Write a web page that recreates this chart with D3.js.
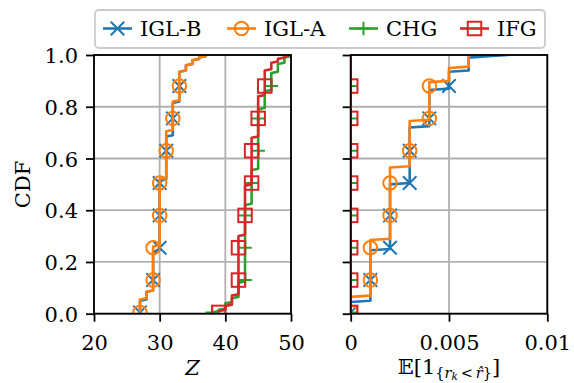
<!DOCTYPE html>
<html><head><meta charset="utf-8">
<script src="https://cdn.jsdelivr.net/npm/d3@7"></script>
<style>body{margin:0;background:#fff}svg{display:block}</style>
</head><body>
<svg id="c" width="574" height="383"></svg>
<script>
// ---------- data ----------
const categories = ["IGL-B", "IGL-A", "CHG", "IFG"];
const nSamples = 200;           // samples per empirical CDF
const markEvery = 25;           // a marker every 25 samples
// Left panel: Z — distinct values and cumulative counts
const zValsIglB = [27, 28, 29, 30, 31, 32, 33, 34, 35, 36, 37];
const zCumIglB  = [10, 17, 48, 103, 137, 163, 187, 192, 196, 198, 200];
const zValsIglA = [27, 28, 29, 30, 31, 32, 33, 34, 35, 36, 37];
const zCumIglA  = [11, 17, 52, 104, 141, 164, 187, 192, 196, 198, 200];
const zValsChg  = [38, 39, 40, 41, 42, 43, 44, 45, 46, 47, 48, 49, 50];
const zCumChg   = [1, 3, 8, 12, 24, 84, 111, 158, 172, 186, 193, 198, 200];
const zValsIfg  = [39, 40, 41, 42, 43, 44, 45, 46, 47, 48, 49, 50];
const zCumIfg   = [2, 6, 14, 60, 99, 136, 168, 188, 194, 197, 199, 200];
// Right panel: E[1{r_k < r^}] — distinct values and cumulative counts
const eValsIglB = [0, 0.001, 0.002, 0.003, 0.004, 0.005, 0.006, 0.007, 0.008];
const eCumIglB  = [9, 49, 100, 144, 173, 187, 198, 199, 200];
const eValsIglA = [0, 0.001, 0.002, 0.003, 0.004, 0.005, 0.006];
const eCumIglA  = [13, 57, 113, 149, 179, 190, 200];
const eValsChg  = [0];
const eCumChg   = [200];
const eValsIfg  = [0];
const eCumIfg   = [200];
// ticks
const zTicks = [20, 30, 40, 50];
const zTickLabels = ["20", "30", "40", "50"];
const eTicks = [0, 0.005, 0.01];
const eTickLabels = ["0", "0.005", "0.01"];
const yTicks = [0, 0.2, 0.4, 0.6, 0.8, 1.0];
const yTickLabels = ["0.0", "0.2", "0.4", "0.6", "0.8", "1.0"];

// ---------- styles ----------
const colors = {"IGL-B": "#1f77b4", "IGL-A": "#ff7f0e", "CHG": "#2ca02c", "IFG": "#d62728"};
const markers = {"IGL-B": "x", "IGL-A": "o", "CHG": "+", "IFG": "s"};
const FONT = "DejaVu Serif";
const FS = 21;
const svg = d3.select("#c");

function expand(vals, cum) {
  const out = []; let prev = 0;
  vals.forEach((v, j) => { for (let i = prev; i < cum[j]; i++) out.push(v); prev = cum[j]; });
  return out;
}
const leftData = {
  "IGL-B": expand(zValsIglB, zCumIglB), "IGL-A": expand(zValsIglA, zCumIglA),
  "CHG": expand(zValsChg, zCumChg), "IFG": expand(zValsIfg, zCumIfg)
};
const rightData = {
  "IGL-B": expand(eValsIglB, eCumIglB), "IGL-A": expand(eValsIglA, eCumIglA),
  "CHG": expand(eValsChg, eCumChg), "IFG": expand(eValsIfg, eCumIfg)
};

const plotTop = 55, plotBottom = 313.7;
const y = d3.scaleLinear().domain([0, 1]).range([plotBottom, plotTop]);

function drawMarker(g, type, cx, cy, color) {
  const h = 6.75;
  if (type === "o") g.append("circle").attr("cx", cx).attr("cy", cy).attr("r", h)
      .attr("fill", "none").attr("stroke", color).attr("stroke-width", 2);
  else if (type === "s") g.append("rect").attr("x", cx - h).attr("y", cy - h).attr("width", 2 * h).attr("height", 2 * h)
      .attr("fill", "none").attr("stroke", color).attr("stroke-width", 2);
  else if (type === "x") g.append("path").attr("d", `M${cx-h},${cy-h}L${cx+h},${cy+h}M${cx-h},${cy+h}L${cx+h},${cy-h}`)
      .attr("stroke", color).attr("stroke-width", 2).attr("fill", "none");
  else if (type === "+") g.append("path").attr("d", `M${cx-h},${cy}L${cx+h},${cy}M${cx},${cy-h}L${cx},${cy+h}`)
      .attr("stroke", color).attr("stroke-width", 2).attr("fill", "none");
}

function panel(id, x0, x1, domain, ticks, tickLabels, data, showY) {
  const x = d3.scaleLinear().domain(domain).range([x0, x1]);
  const g = svg.append("g");
  g.append("clipPath").attr("id", "clip" + id).append("rect")
    .attr("x", x0).attr("y", plotTop).attr("width", x1 - x0).attr("height", plotBottom - plotTop);
  // grid
  g.append("g").selectAll("line").data(ticks).join("line")
    .attr("x1", d => x(d)).attr("x2", d => x(d)).attr("y1", plotTop).attr("y2", plotBottom)
    .attr("stroke", "#b0b0b0").attr("stroke-width", 1.8);
  g.append("g").selectAll("line").data(yTicks).join("line")
    .attr("x1", x0).attr("x2", x1).attr("y1", d => y(d)).attr("y2", d => y(d))
    .attr("stroke", "#b0b0b0").attr("stroke-width", 1.8);
  // series
  const plot = g.append("g").attr("clip-path", `url(#clip${id})`);
  const line = d3.line().x(d => x(d[0])).y(d => y(d[1]));
  categories.forEach(c => {
    const pts = data[c].map((v, i) => [v, (i + 1) / nSamples]);
    const sg = plot.append("g");
    sg.append("path").attr("d", line(pts)).attr("fill", "none")
      .attr("stroke", colors[c]).attr("stroke-width", 2.6).attr("stroke-linejoin", "round");
    pts.forEach((p, i) => { if (i % markEvery === 0) drawMarker(sg, markers[c], x(p[0]), y(p[1]), colors[c]); });
  });
  // spines
  g.append("rect").attr("x", x0).attr("y", plotTop).attr("width", x1 - x0).attr("height", plotBottom - plotTop)
    .attr("fill", "none").attr("stroke", "#000").attr("stroke-width", 1.8);
  // x axis
  const xa = d3.axisBottom(x).tickValues(ticks).tickFormat((d, i) => tickLabels[i]).tickSize(8).tickPadding(8);
  const gx = g.append("g").attr("transform", `translate(0,${plotBottom})`).call(xa);
  gx.select(".domain").remove();
  gx.selectAll(".tick line").attr("stroke", "#000").attr("stroke-width", 1.8);
  gx.selectAll(".tick text").attr("font-family", FONT).attr("font-size", FS).attr("fill", "#000")
    .attr("dy", null).attr("y", 36);
  // y axis
  const ya = d3.axisLeft(y).tickValues(yTicks).tickFormat((d, i) => showY ? yTickLabels[i] : "").tickSize(8).tickPadding(8);
  const gy = g.append("g").attr("transform", `translate(${x0},0)`).call(ya);
  gy.select(".domain").remove();
  gy.selectAll(".tick line").attr("stroke", "#000").attr("stroke-width", 1.8);
  gy.selectAll(".tick text").attr("font-family", FONT).attr("font-size", FS).attr("fill", "#000")
    .attr("dy", "0.36em");
  return x;
}

panel("L", 94, 291, [20, 50], zTicks, zTickLabels, leftData, true);
panel("R", 350.7, 547.3, [0, 0.01], eTicks, eTickLabels, rightData, false);

// axis labels
svg.append("text").attr("x", 192.5).attr("y", 374.5).attr("text-anchor", "middle")
  .attr("font-family", FONT).attr("font-style", "italic").attr("font-size", FS).text("Z");
const xl = svg.append("text").attr("x", 449).attr("y", 373.5).attr("text-anchor", "middle")
  .attr("font-family", FONT).attr("font-size", FS);
xl.append("tspan").text("\u{1D53C}[1");
xl.append("tspan").attr("font-size", 14.5).attr("dy", 4).text("{");
xl.append("tspan").attr("font-size", 14.5).attr("font-style", "italic").text("r");
xl.append("tspan").attr("font-size", 10.5).attr("font-style", "italic").attr("dy", 2.5).text("k");
xl.append("tspan").attr("font-size", 14.5).attr("dy", -2.5).text("\u2009<\u2009");
xl.append("tspan").attr("font-size", 14.5).attr("font-style", "italic").text("r\u0302");
xl.append("tspan").attr("font-size", 14.5).text("}");
xl.append("tspan").attr("dy", -4).text("]");
svg.append("text").attr("transform", "translate(29.5,184.4) rotate(-90)").attr("text-anchor", "middle")
  .attr("font-family", FONT).attr("font-size", FS).text("CDF");

// legend
const lg = svg.append("g");
lg.append("rect").attr("x", 95).attr("y", 10).attr("width", 450).attr("height", 38).attr("rx", 4)
  .attr("fill", "#fff").attr("fill-opacity", 0.8).attr("stroke", "#cccccc").attr("stroke-width", 1.8);
const handleX = [103, 227, 349, 460];
categories.forEach((c, i) => {
  const hx = handleX[i], cy = 28.5;
  lg.append("line").attr("x1", hx).attr("x2", hx + 29).attr("y1", cy).attr("y2", cy)
    .attr("stroke", colors[c]).attr("stroke-width", 2.6);
  drawMarker(lg, markers[c], hx + 14.5, cy, colors[c]);
  lg.append("text").attr("x", hx + 37).attr("y", cy).attr("dy", "0.36em")
    .attr("font-family", FONT).attr("font-size", FS).text(c);
});
</script>
</body></html>
